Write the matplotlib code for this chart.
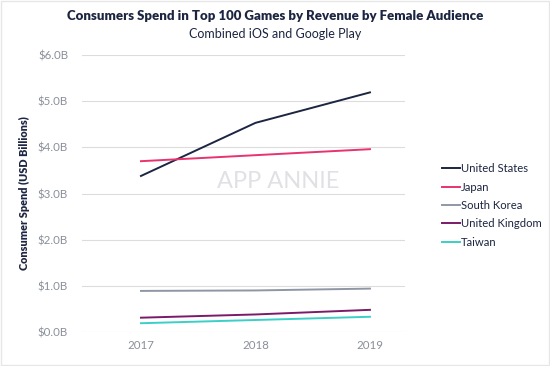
import matplotlib
matplotlib.use("Agg")
import matplotlib.pyplot as plt
from matplotlib.patches import Rectangle

years = [2017, 2018, 2019]
series = {
    "United States": [3.38, 4.53, 5.19],
    "Japan": [3.70, 3.83, 3.96],
    "South Korea": [0.89, 0.90, 0.94],
    "United Kingdom": [0.31, 0.38, 0.48],
    "Taiwan": [0.19, 0.26, 0.33],
}
colors = {
    "United States": "#1c2541",
    "Japan": "#e8336e",
    "South Korea": "#8f97a5",
    "United Kingdom": "#7a1b6a",
    "Taiwan": "#3ccfc8",
}
yticks = [0, 1, 2, 3, 4, 5, 6]
ytick_labels = ["$0.0B", "$1.0B", "$2.0B", "$3.0B", "$4.0B", "$5.0B", "$6.0B"]

plt.rcParams['font.family'] = ['Lato', 'DejaVu Sans']
fig = plt.figure(figsize=(5.5, 3.66), dpi=100)
fig.patches.append(Rectangle((0.002, 0.002), 0.996, 0.996, transform=fig.transFigure,
                             fill=False, edgecolor="#e6e6e6", linewidth=1))
ax = fig.add_axes([82/550, 1-332/366, (405-82)/550, (332-55)/366])

for name, vals in series.items():
    ax.plot(years, vals, color=colors[name], linewidth=1.4, label=name)

ax.set_ylim(0, 6)
ax.set_xlim(2016.485, 2019.306)
ax.set_yticks(yticks)
ax.set_yticklabels(ytick_labels)
ax.set_xticks(years)
ax.set_xticklabels([str(y) for y in years])
ax.grid(axis="y", color="#dcdcdc", linewidth=0.8)
ax.set_axisbelow(True)
for s in ax.spines.values():
    s.set_visible(False)
ax.tick_params(axis="both", length=0, colors="#8a8f99", labelsize=8.3)
ax.tick_params(axis="y", pad=10)
ax.tick_params(axis="x", pad=6)
ax.set_ylabel("Consumer Spend (USD Billions)", fontsize=7.8, fontweight="heavy",
              color="#1c2541", labelpad=6)

ax.text(2018.2, 3.25, "APP ANNIE", fontsize=17, color="#e0e1e4", ha="center",
        va="center", zorder=0)

fig.text(0.5, 0.955, "Consumers Spend in Top 100 Games by Revenue by Female Audience",
         ha="center", va="center", fontsize=9.5, fontweight="heavy", color="#1c2541")
fig.text(0.5, 0.908, "Combined iOS and Google Play", ha="center", va="center",
         fontsize=9, color="#1c2541")

leg = ax.legend(loc="upper left", bbox_to_anchor=(432/550, 1-153/366),
                bbox_transform=fig.transFigure, frameon=False, fontsize=8.1,
                handlelength=1.6, handletextpad=0.1, labelspacing=0.66)
for t in leg.get_texts():
    t.set_color("#1c2541")

fig.savefig("out.png", dpi=100)
